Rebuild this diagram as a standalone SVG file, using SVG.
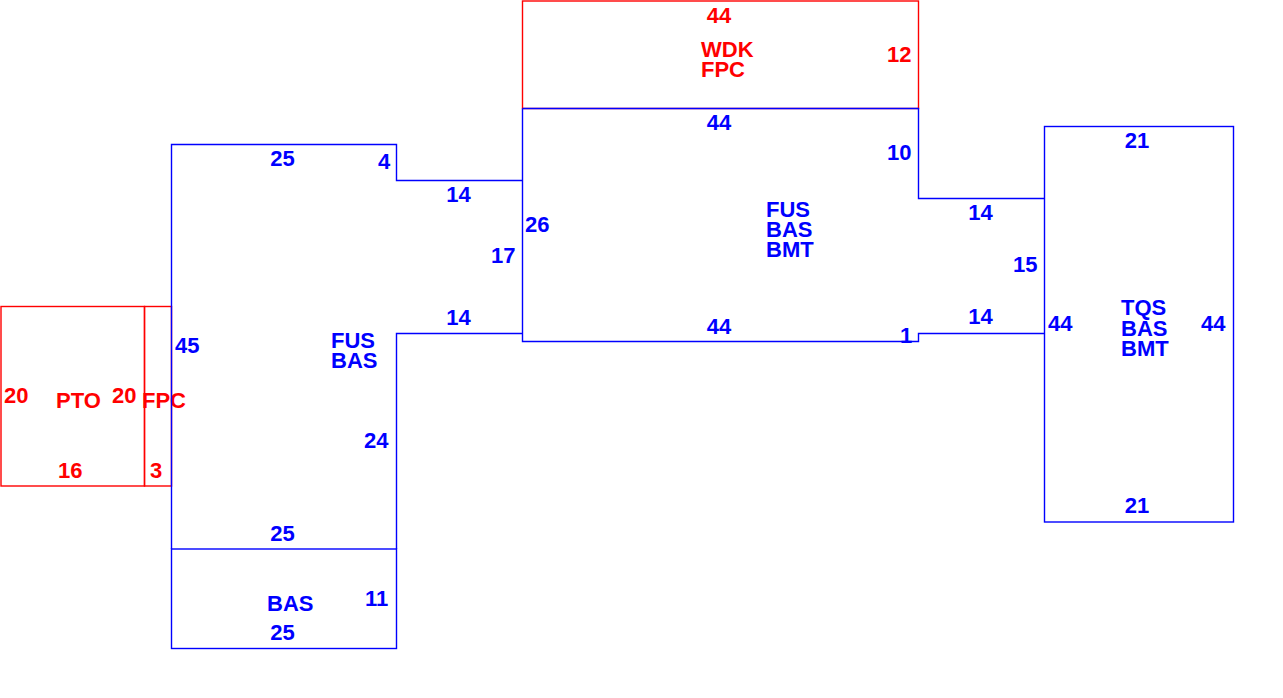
<svg xmlns="http://www.w3.org/2000/svg" width="1283" height="698" viewBox="0 0 1283 698">
<style>
.b{stroke:#0000ff;fill:none;stroke-width:1.4}
.r{stroke:#ff0000;fill:none;stroke-width:1.4}
text{font-family:"Liberation Sans",Arial,sans-serif;font-weight:bold;font-size:22px}
.tb{fill:#0000ff}
.tr{fill:#ff0000}
.m{text-anchor:middle}
</style>
<rect width="1283" height="698" fill="#ffffff"/>
<g id="pto">
<rect class="r" x="1" y="306.5" width="143.5" height="179.5"/>
<text class="tr" x="4" y="403">20</text>
<text class="tr" x="56" y="408">PTO</text>
<text class="tr" x="112" y="403">20</text>
<text class="tr" x="58" y="478">16</text>
</g>
<g id="fpc-left">
<rect class="r" x="144.5" y="306.5" width="27" height="179.5"/>
<text class="tr" x="142" y="408">FPC</text>
<text class="tr" x="150" y="478">3</text>
</g>
<g id="fus-left">
<path class="b" d="M171.5,549 V144.5 H396.5 V180.5 H522.5 M522.5,333.5 H396.5 V549"/>
<text class="tb m" x="282.5" y="166">25</text>
<text class="tb" x="378" y="169">4</text>
<text class="tb m" x="458.5" y="202">14</text>
<text class="tb m" x="458.5" y="325">14</text>
<text class="tb" x="491" y="263">17</text>
<text class="tb" x="175" y="353">45</text>
<text class="tb" x="331" y="348">FUS</text>
<text class="tb" x="331" y="368">BAS</text>
<text class="tb" x="364" y="448">24</text>
<text class="tb m" x="282.5" y="541">25</text>
</g>
<g id="bas-left">
<rect class="b" x="171.5" y="549" width="225" height="99.5"/>
<text class="tb" x="267" y="611">BAS</text>
<text class="tb" x="365" y="606">11</text>
<text class="tb m" x="282.5" y="640">25</text>
</g>
<g id="wdk">
<rect class="r" x="522.5" y="1" width="396" height="107.5"/>
<text class="tr m" x="719" y="23">44</text>
<text class="tr" x="701" y="57">WDK</text>
<text class="tr" x="701" y="77">FPC</text>
<text class="tr" x="887" y="62">12</text>
</g>
<g id="fus-center">
<path class="b" d="M522.5,108.5 V341.5 H918.5 V333.5 H1044.5 M1044.5,198.5 H918.5 V108.5 H522.5"/>
<text class="tb m" x="719" y="130">44</text>
<text class="tb" x="887" y="160">10</text>
<text class="tb" x="525" y="232">26</text>
<text class="tb" x="766" y="217">FUS</text>
<text class="tb" x="766" y="237">BAS</text>
<text class="tb" x="766" y="257">BMT</text>
<text class="tb m" x="719" y="334">44</text>
<text class="tb" x="900" y="343">1</text>
<text class="tb m" x="980.5" y="220">14</text>
<text class="tb m" x="980.5" y="324">14</text>
<text class="tb" x="1013" y="272">15</text>
</g>
<g id="tqs">
<rect class="b" x="1044.5" y="126.5" width="189" height="395.5"/>
<text class="tb m" x="1137" y="148">21</text>
<text class="tb" x="1048" y="331">44</text>
<text class="tb" x="1121" y="315">TQS</text>
<text class="tb" x="1121" y="336">BAS</text>
<text class="tb" x="1121" y="356">BMT</text>
<text class="tb" x="1201" y="331">44</text>
<text class="tb m" x="1137" y="513">21</text>
</g>
</svg>
